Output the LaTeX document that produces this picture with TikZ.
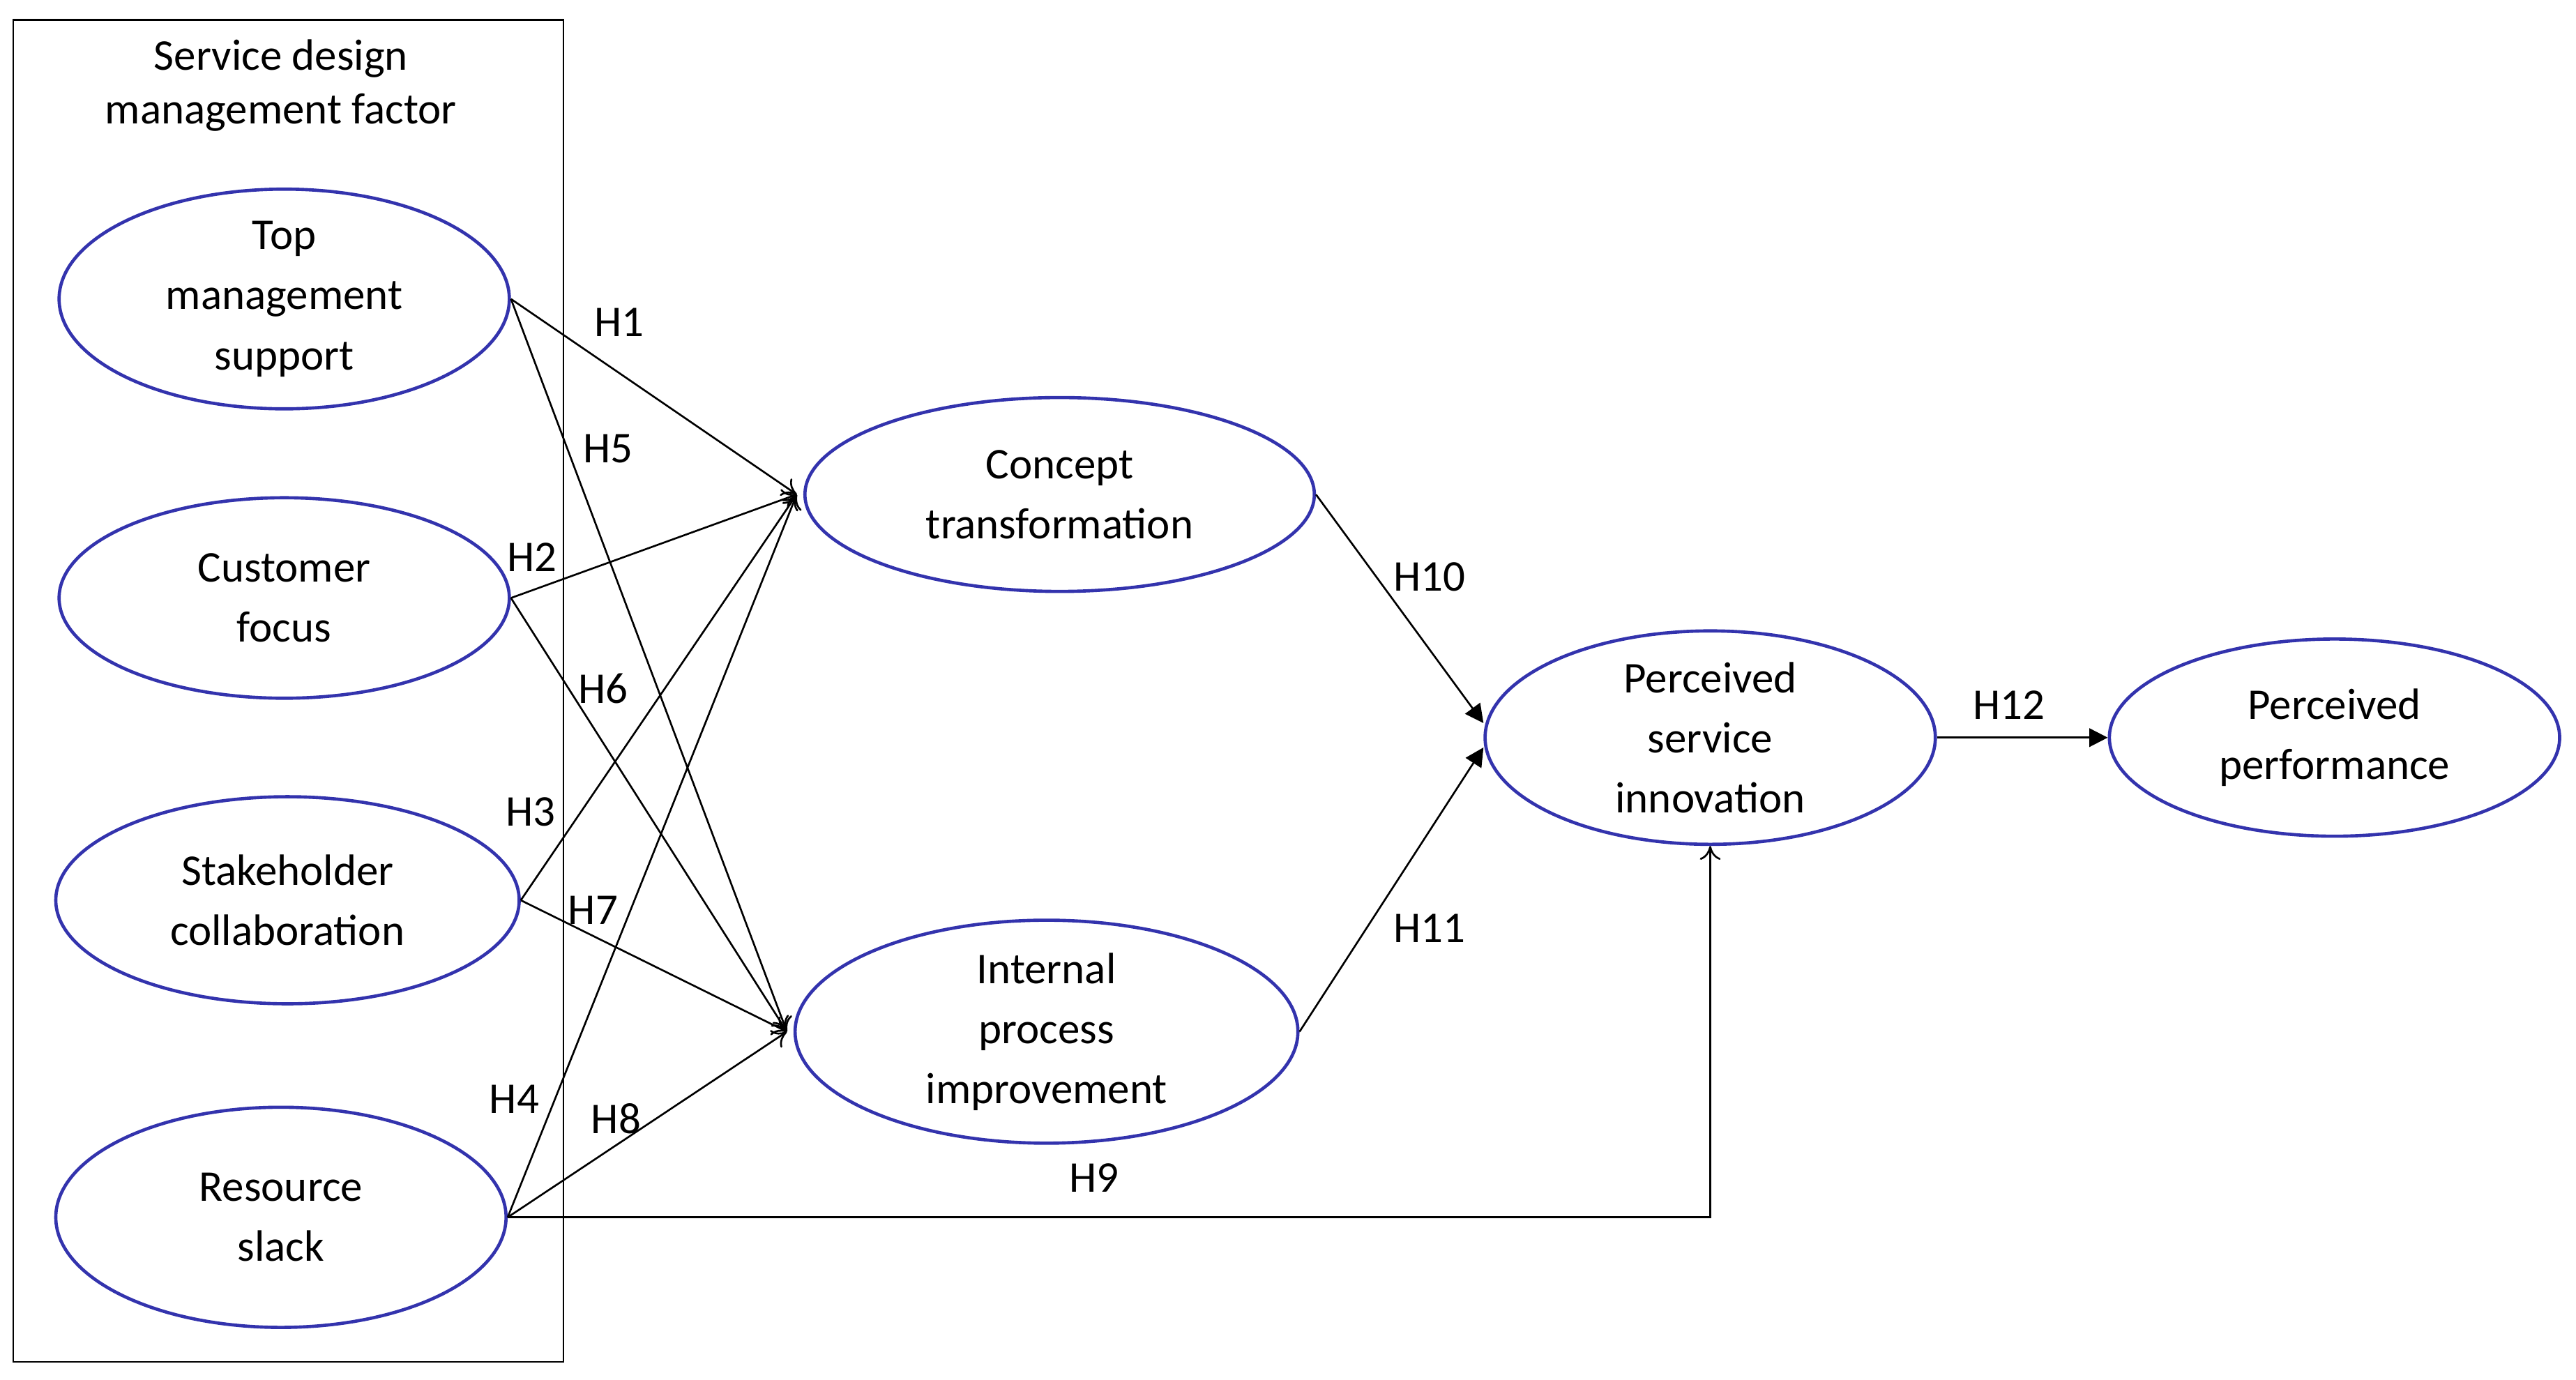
\documentclass[tikz,border=0pt]{standalone}
\usepackage{fontspec}
\setmainfont{Carlito}
\usetikzlibrary{shapes.geometric,arrows.meta}
\begin{document}
\begin{tikzpicture}[x=0.025cm,y=-0.025cm,
 el/.style={ellipse,draw=blue!60!black!80,line width=1.4pt,inner sep=0pt,align=center,font=\fontsize{19}{26}\selectfont},
 lab/.style={font=\fontsize{19}{23}\selectfont},
 ar/.style={line width=0.8pt,-{To[length=6pt,width=9pt]}},
 fa/.style={line width=0.8pt,-{Triangle[length=8pt,width=8pt]}}]
\useasboundingbox (0,0) rectangle (1568,840);
\draw[line width=0.8pt] (8,12) rectangle (343,829);
\node[lab,align=center] (title) at (171,52) {Service design\\management factor};
\node[el,minimum width=274\pgflinewidth*0+6.85cm,minimum height=3.05cm] (tm) at (173,182) {Top\\management\\support};
\node[el,minimum width=6.85cm,minimum height=3.05cm] (cf) at (173,364) {Customer\\focus};
\node[el,minimum width=7.05cm,minimum height=3.15cm] (sc) at (175,548) {Stakeholder\\collaboration};
\node[el,minimum width=6.85cm,minimum height=3.35cm] (rs) at (171,741) {Resource\\slack};
\node[el,minimum width=7.75cm,minimum height=2.95cm] (ct) at (645,301) {Concept\\transformation};
\node[el,minimum width=7.65cm,minimum height=3.0cm] (ip) at (637,628) {Internal\\process\\improvement};
\node[el,minimum width=6.85cm,minimum height=3.05cm] (psi) at (1041,449) {Perceived\\service\\innovation};
\node[el,minimum width=6.85cm,minimum height=3.0cm] (pp) at (1421,449) {Perceived\\performance};
\coordinate (ctin) at ([xshift=-0.1cm]ct.west);
\coordinate (ipin) at ([xshift=-0.1cm]ip.west);
\draw[ar] (tm.east) -- (ctin);
\draw[ar] (tm.east) -- (ipin);
\draw[ar] (cf.east) -- (ctin);
\draw[ar] (cf.east) -- (ipin);
\draw[ar] (sc.east) -- (ctin);
\draw[ar] (sc.east) -- (ipin);
\draw[ar] (rs.east) -- (ctin);
\draw[ar] (rs.east) -- (ipin);
\draw[ar] (rs.east) -| (psi.south);
\draw[fa] (ct.east) -- ([yshift=0.22cm]psi.west);
\draw[fa] (ip.east) -- ([yshift=-0.15cm]psi.west);
\draw[fa] (psi.east) -- (pp.west);
\node[lab] (h1) at (377,196) {H1};
\node[lab] (h5) at (370,273) {H5};
\node[lab] (h2) at (324,339) {H2};
\node[lab] (h6) at (367,419) {H6};
\node[lab] (h3) at (323,494) {H3};
\node[lab] (h7) at (361,554) {H7};
\node[lab] (h4) at (313,669) {H4};
\node[lab] (h8) at (375,681) {H8};
\node[lab] (h9) at (666,717) {H9};
\node[lab] (h10) at (870,351) {H10};
\node[lab] (h11) at (870,565) {H11};
\node[lab] (h12) at (1223,429) {H12};
\end{tikzpicture}
\end{document}
